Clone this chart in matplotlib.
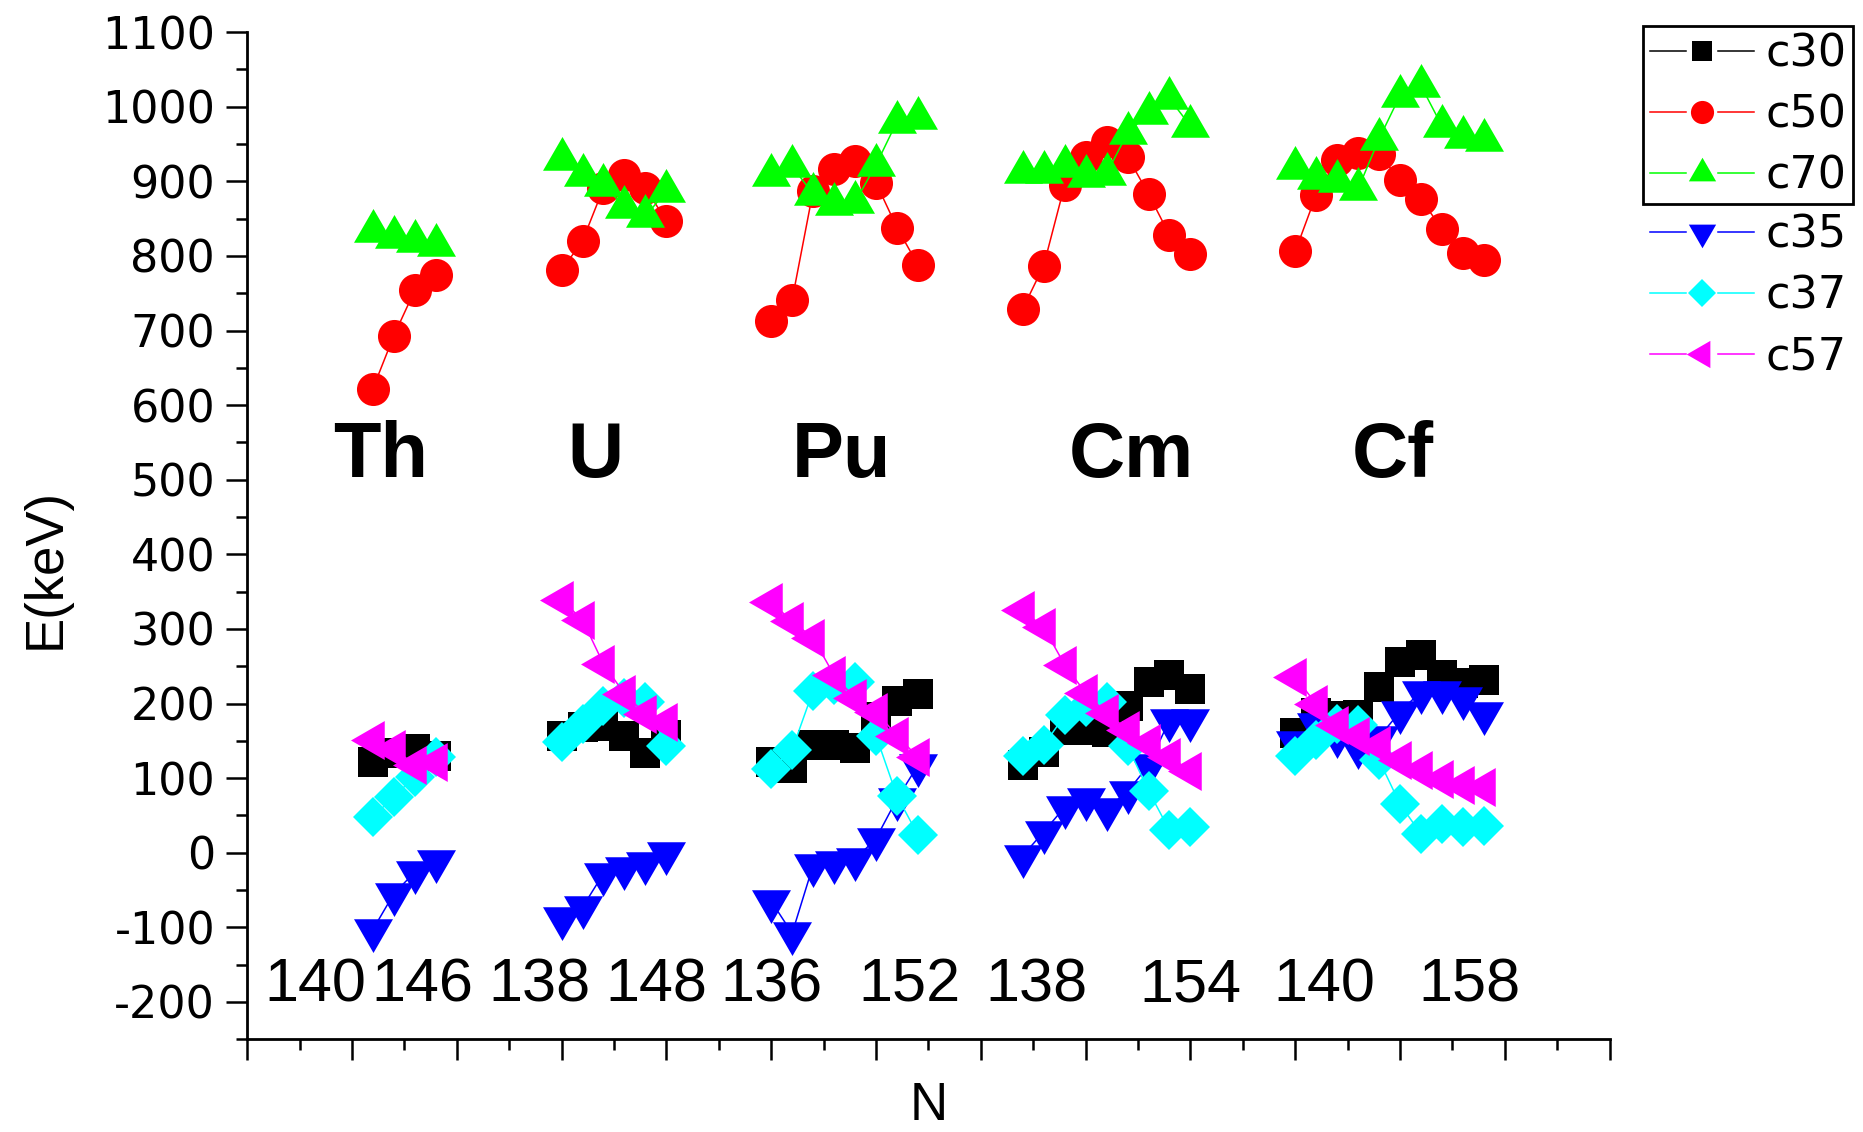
import numpy as np
import matplotlib
matplotlib.use("Agg")
import matplotlib.pyplot as plt
from matplotlib.lines import Line2D
from matplotlib.legend_handler import HandlerBase
from matplotlib.ticker import MultipleLocator, NullFormatter
from matplotlib.font_manager import FontProperties

plt.rcParams["axes.unicode_minus"] = False

# ---------------- data ----------------
elements = ["Th", "U", "Pu", "Cm", "Cf"]
group_start = [6, 15, 25, 37, 50]          # first plotting slot of each element

series_names = ["c30", "c50", "c70", "c35", "c37", "c57"]

c30 = [[122, 133, 139, 130],
       [156, 168, 170, 156, 134, 158],
       [122, 113, 145, 144, 140, 182, 203, 213],
       [118, 135, 165, 164, 162, 196, 229, 238, 220],
       [161, 187, 183, 185, 222, 256, 265, 238, 228, 231]]
c50 = [[622, 693, 754, 775],
       [781, 820, 891, 908, 891, 847],
       [713, 741, 887, 916, 927, 898, 838, 788],
       [729, 787, 895, 933, 953, 933, 883, 828, 802],
       [806, 882, 929, 938, 936, 902, 876, 836, 804, 794]]
c70 = [[833, 825, 820, 815],
       [930, 909, 895, 866, 853, 887],
       [908, 920, 883, 870, 872, 922, 980, 985],
       [912, 913, 920, 907, 910, 965, 991, 1011, 974],
       [918, 904, 900, 890, 957, 1015, 1028, 974, 959, 956]]
c35 = [[-103, -55, -26, -11],
       [-87, -73, -28, -21, -14, 0],
       [-65, -108, -17, -12, -9, 19, 72, 117],
       [-4, 28, 61, 72, 59, 82, 117, 178, 178],
       [149, 172, 156, 142, 155, 189, 216, 215, 207, 187]]
c37 = [[48, 75, 102, 128],
       [149, 173, 196, 207, 202, 143],
       [112, 138, 217, 225, 229, 157, 76, 24],
       [129, 144, 184, 195, 202, 143, 83, 30, 34],
       [129, 151, 172, 171, 124, 65, 25, 38, 34, 36]]
c57 = [[151, 139, 118, 122],
       [339, 312, 253, 213, 186, 175],
       [336, 310, 288, 238, 207, 189, 157, 128],
       [325, 302, 252, 214, 187, 165, 147, 128, 110],
       [236, 199, 171, 157, 144, 124, 111, 99, 91, 88]]

n_labels = ["140", "146", "138", "148", "136", "152", "138", "154", "140", "158"]
n_label_x = [3.24, 8.37, 13.94, 19.5, 25.0, 31.6, 37.65, 45.0, 51.4, 58.3]
element_label_x = [6.37, 16.6, 28.37, 42.16, 54.67]

# ---------------- style ----------------
s3 = np.sqrt(3)
tri_up = [(0, 1 / s3), (-0.5, -0.5 / s3), (0.5, -0.5 / s3), (0, 1 / s3)]
tri_down = [(x, -y) for x, y in tri_up]
tri_left = [(-y, x) for x, y in tri_up]

styles = {
    "c30": dict(color="#000000", marker="s", ms=21.2),
    "c50": dict(color="#FF0000", marker="o", ms=23.8),
    "c70": dict(color="#00FF00", marker=tri_up, ms=32.4),
    "c35": dict(color="#0000FF", marker=tri_down, ms=32.4),
    "c37": dict(color="#00FFFF", marker="D", ms=20.4),
    "c57": dict(color="#FF00FF", marker=tri_left, ms=32.4),
}
data = {"c30": c30, "c50": c50, "c70": c70, "c35": c35, "c37": c37, "c57": c57}

W, H = 1863, 1132
fig = plt.figure(figsize=(W / 100, H / 100), dpi=100)
y_top_px, y_bot_px = 32.1, 1039.2
x_left_px, x_right_px = 247.1, 1609.7
ax = fig.add_axes([x_left_px / W, 1 - y_bot_px / H,
                   (x_right_px - x_left_px) / W, (y_bot_px - y_top_px) / H])

handles = []
for name in series_names:
    st = styles[name]
    for start, vals in zip(group_start, data[name]):
        xs = start + np.arange(len(vals))
        ax.plot(xs, vals, color=st["color"], lw=1.1, marker=st["marker"],
                ms=st["ms"], mew=0, mfc=st["color"])
    handles.append(Line2D([], [], color=st["color"], lw=1.1, marker=st["marker"],
                          ms=st["ms"], mew=0))

ax.set_xlim(0, 65)
ax.set_ylim(-250, 1100)
for sp in ["top", "right"]:
    ax.spines[sp].set_visible(False)
for sp in ["left", "bottom"]:
    ax.spines[sp].set_linewidth(2)

ax.xaxis.set_major_locator(MultipleLocator(5))
ax.xaxis.set_minor_locator(MultipleLocator(2.5))
ax.xaxis.set_major_formatter(NullFormatter())
ax.yaxis.set_major_locator(MultipleLocator(100))
ax.yaxis.set_minor_locator(MultipleLocator(50))
ax.tick_params(which="major", direction="out", length=15, width=1.8, pad=8)
ax.tick_params(which="minor", direction="out", length=8, width=1.8)
ax.tick_params(axis="x", labelbottom=False)
ax.set_yticks(np.arange(-200, 1101, 100))
for lab in ax.get_yticklabels():
    lab.set_fontfamily("DejaVu Sans")
    lab.set_fontsize(32)

lab_font = ["Liberation Sans", "DejaVu Sans"]
ax.set_ylabel("E(keV)", fontsize=38, family=lab_font, va="baseline")
ax.yaxis.set_label_coords((60 - x_left_px) / (x_right_px - x_left_px), 0.467)
ax.set_xlabel("N", fontsize=38, family=lab_font, va="baseline")
ax.xaxis.set_label_coords(0.5004, (y_bot_px - 1120) / (y_bot_px - y_top_px))

for txt, xp in zip(n_labels, n_label_x):
    ax.text(xp, -200, txt, fontsize=44, family=lab_font, ha="center", va="baseline")
for txt, xp in zip(elements, element_label_x):
    ax.text(xp, 503, txt, fontsize=56, family=lab_font, fontweight="bold",
            ha="center", va="baseline")


class GapLineHandler(HandlerBase):
    def create_artists(self, legend, orig_handle, xdescent, ydescent,
                       width, height, fontsize, trans):
        y = (height - ydescent) / 2
        x0, x1 = -xdescent, width - xdescent
        xm = 0.5 * (x0 + x1)
        gap = 0.15 * width
        kw = dict(color=orig_handle.get_color(), linewidth=orig_handle.get_linewidth())
        a = Line2D([x0, xm - gap], [y, y], **kw)
        b = Line2D([xm + gap, x1], [y, y], **kw)
        m = Line2D([xm], [y], linestyle="none", marker=orig_handle.get_marker(),
                   markersize=orig_handle.get_markersize() * legend.markerscale,
                   color=orig_handle.get_color(), markeredgewidth=0)
        for art in (a, b, m):
            art.set_transform(trans)
        return [a, b, m]


leg_prop = FontProperties(family="DejaVu Sans", size=32)
common = dict(loc="upper left", borderaxespad=0, borderpad=0.15, handlelength=2.35,
              handletextpad=0.25, labelspacing=0.40, markerscale=0.7, prop=leg_prop,
              handler_map={Line2D: GapLineHandler()})
leg1 = fig.legend(handles[:3], series_names[:3], bbox_to_anchor=(1643 / W, 1 - 26 / H),
                  frameon=True, fancybox=False, edgecolor="black", framealpha=1, **common)
leg1.get_frame().set_linewidth(2)
leg2 = fig.legend(handles[3:], series_names[3:], bbox_to_anchor=(1643 / W, 1 - 207 / H),
                  frameon=False, **common)

fig.savefig("out.png", dpi=100)
